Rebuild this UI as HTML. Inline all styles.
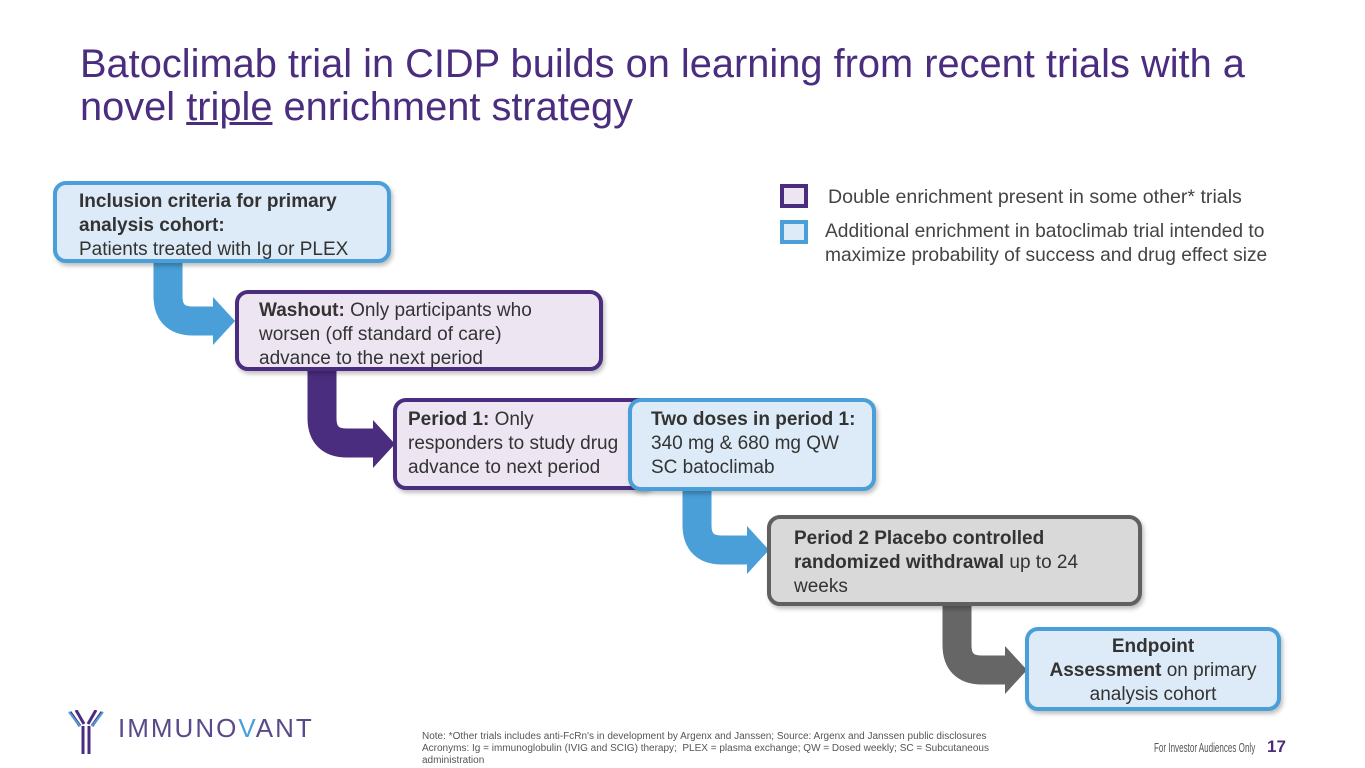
<!DOCTYPE html>
<html><head><meta charset="utf-8"><style>
body{margin:0;width:1365px;height:768px;overflow:hidden;background:#fff;font-family:"Liberation Sans",Arial,sans-serif;position:relative}
.t{position:absolute;left:80px;top:43px;font-size:39.8px;line-height:43px;color:#4b2d7f;white-space:nowrap}
.b{position:absolute;box-sizing:border-box;border-radius:13px;border:4px solid;font-size:19px;line-height:24px;color:#333;box-shadow:2px 3px 4px rgba(0,0,0,0.25);white-space:nowrap}
.bl{border-color:#4a9fd8;background:#dcebf7}
.pu{border-color:#4b2d7f;background:#ede6f2}
.gr{border-color:#606060;background:#d9d9d9}
b{color:#333}
.abs{position:absolute;white-space:nowrap}
</style></head><body>
<div class="t">Batoclimab trial in CIDP builds on learning from recent trials with a<br>novel <u>triple</u> enrichment strategy</div>

<svg class="abs" style="left:0;top:0" width="1365" height="768">
<g fill="none" stroke-linejoin="round">
<path d="M168,258 V296 Q168,321 193,321 H216" stroke="#4a9fd8" stroke-width="29"/>
<path d="M322,366 V418 Q322,443 347,443 H376" stroke="#4b2d7f" stroke-width="29"/>
<path d="M697,486 V525 Q697,550 722,550 H750" stroke="#4a9fd8" stroke-width="29"/>
<path d="M957,601 V645 Q957,670 982,670 H1008" stroke="#666" stroke-width="29"/>
</g>
<polygon points="213,297 235,321 213,345" fill="#4a9fd8"/>
<polygon points="373,420 395,444 373,468" fill="#4b2d7f"/>
<polygon points="747,526 769,550 747,574" fill="#4a9fd8"/>
<polygon points="1005,646 1027,670 1005,694" fill="#666"/>
</svg>

<div class="b bl" style="left:53px;top:181px;width:338px;height:82px;padding:5px 0 0 22px"><b>Inclusion criteria for primary<br>analysis cohort:</b><br>Patients treated with Ig or PLEX</div>
<div class="b pu" style="left:235px;top:290px;width:368px;height:81px;padding:5px 0 0 20px"><b>Washout:</b> Only participants who<br>worsen (off standard of care)<br>advance to the next period</div>
<div class="b pu" style="left:393px;top:398px;width:262px;height:92px;padding:6px 0 0 11px"><b>Period 1:</b> Only<br>responders to study drug<br>advance to next period</div>
<div class="b bl" style="left:628px;top:398px;width:248px;height:93px;padding:6px 0 0 19px"><b>Two doses in period 1:</b><br>340 mg &amp; 680 mg QW<br>SC batoclimab</div>
<div class="b gr" style="left:767px;top:515px;width:375px;height:91px;padding:8px 0 0 23px"><b>Period 2 Placebo controlled<br>randomized withdrawal</b> up to 24<br>weeks</div>
<div class="b bl" style="left:1025px;top:627px;width:256px;height:84px;padding:4px 0 0 0;text-align:center"><b>Endpoint<br>Assessment</b> on primary<br>analysis cohort</div>

<div class="abs" style="left:780px;top:184px;width:28px;height:24px;box-sizing:border-box;border:4px solid #4b2d7f;background:#ede6f2"></div>
<div class="abs" style="left:780px;top:220px;width:28px;height:24px;box-sizing:border-box;border:4px solid #4a9fd8;background:#dcebf7"></div>
<div class="abs" style="left:828px;top:186px;font-size:19.6px;line-height:23px;color:#444">Double enrichment present in some other* trials</div>
<div class="abs" style="left:825px;top:220px;font-size:19.2px;line-height:24px;color:#444">Additional enrichment in batoclimab trial intended to<br>maximize probability of success and drug effect size</div>

<svg class="abs" style="left:66px;top:710px" width="40" height="45">
<g fill="none" stroke="#4b2d7f" stroke-width="3"><path d="M4,2 L14,16 M10,0 L18,14 M36,2 L26,16 M30,0 L22,14 M17,16 V44 M23,16 V44"/></g>
<path d="M3,2 L14,16 M37,2 L26,16" stroke="#4a9fd8" stroke-width="2"/>
</svg>
<div class="abs" style="left:118px;top:713px;font-size:26px;letter-spacing:2px;color:#5a4a8a">IMMUNO<span style="color:#4a9fd8">V</span>ANT</div>
<div class="abs" style="left:422px;top:731px;font-size:10px;line-height:12px;color:#555;white-space:normal;width:585px">Note: *Other trials includes anti-FcRn's in development by Argenx and Janssen; Source: Argenx and Janssen public disclosures<br>Acronyms: Ig = immunoglobulin (IVIG and SCIG) therapy;&nbsp; PLEX = plasma exchange; QW = Dosed weekly; SC = Subcutaneous administration</div>
<div class="abs" style="left:1154px;top:740px;font-size:13px;color:#555;transform:scaleX(0.62);transform-origin:0 0">For Investor Audiences Only</div>
<div class="abs" style="left:1267px;top:737px;font-size:17px;font-weight:bold;color:#4b2d7f">17</div>
</body></html>
